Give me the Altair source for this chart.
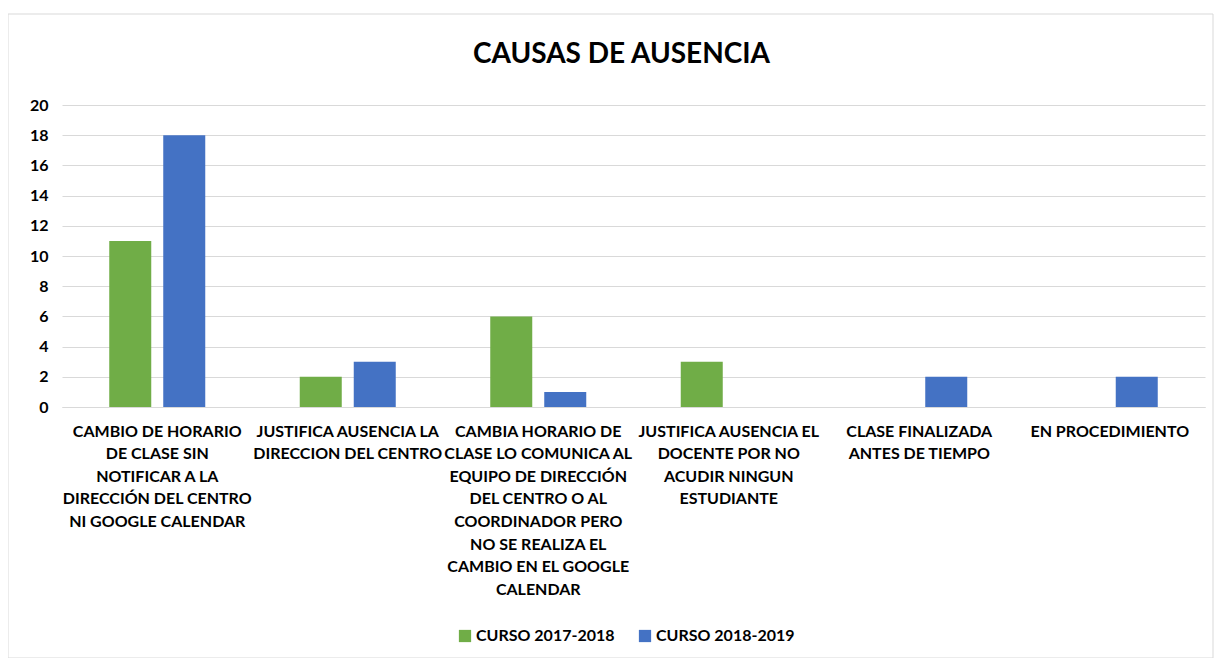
import altair as alt
import pandas as pd

categories = [
    "CAMBIO DE HORARIO|DE CLASE SIN|NOTIFICAR A LA|DIRECCIÓN DEL CENTRO|NI GOOGLE CALENDAR",
    "JUSTIFICA AUSENCIA LA|DIRECCION DEL CENTRO",
    "CAMBIA HORARIO DE|CLASE LO COMUNICA AL|EQUIPO DE DIRECCIÓN|DEL CENTRO O AL|COORDINADOR PERO|NO SE REALIZA EL|CAMBIO EN EL GOOGLE|CALENDAR",
    "JUSTIFICA AUSENCIA EL|DOCENTE POR NO|ACUDIR NINGUN|ESTUDIANTE",
    "CLASE FINALIZADA|ANTES DE TIEMPO",
    "EN PROCEDIMIENTO",
]
series = ["CURSO 2017-2018", "CURSO 2018-2019"]
values_2017 = [11, 2, 6, 3, 0, 0]
values_2018 = [18, 3, 1, 0, 2, 2]
colors = ["#70ad47", "#4472c4"]

rows = []
for c, a, b in zip(categories, values_2017, values_2018):
    rows.append({"cat": c, "serie": series[0], "val": a})
    rows.append({"cat": c, "serie": series[1], "val": b})
df = pd.DataFrame(rows)

FONT = "Lato"

bars = alt.Chart(df).mark_bar().encode(
    x=alt.X("cat:N", sort=categories, title=None,
            scale=alt.Scale(paddingInner=0, paddingOuter=0),
            axis=alt.Axis(labelAngle=0, labelExpr="split(datum.value, '|')",
                          labelFont=FONT, labelFontSize=16, labelFontWeight="bold",
                          labelColor="#000000", labelLimit=400, labelLineHeight=22.6,
                          labelPadding=16, ticks=False, domainColor="#d9d9d9",
                          labelBaseline="top")),
    xOffset=alt.XOffset("serie:N", sort=series,
                        scale=alt.Scale(paddingInner=0.2222, paddingOuter=0.875)),
    y=alt.Y("val:Q", title=None,
            scale=alt.Scale(domain=[0, 20]),
            axis=alt.Axis(values=list(range(0, 21, 2)), labelFont=FONT, labelFontSize=16,
                          labelFontWeight="bold", labelColor="#000000", ticks=False,
                          domain=False, gridColor="#d9d9d9", labelPadding=14)),
    color=alt.Color("serie:N", sort=series,
                    scale=alt.Scale(domain=series, range=colors),
                    legend=alt.Legend(title=None, orient="none", direction="horizontal",
                                      legendX=395, legendY=523, symbolType="square",
                                      symbolSize=150, symbolStrokeWidth=0,
                                      labelFont=FONT, labelFontSize=16, labelOffset=3,
                                      labelFontWeight="bold", labelColor="#000000",
                                      columnPadding=22, symbolOpacity=1)),
)

border = alt.Chart(alt.Data(values=[{}])).mark_rect(
    fill=None, stroke="#d9d9d9", strokeWidth=1
).encode(
    x=alt.value(-54), x2=alt.value(1151), y=alt.value(-91), y2=alt.value(553)
)

chart = alt.layer(border, bars).properties(
    width=1143, height=302,
    title=alt.TitleParams("CAUSAS DE AUSENCIA", font=FONT, fontSize=28,
                          fontWeight="bold", color="#000000", offset=-55, dx=-12,
                          anchor="middle"),
    autosize=alt.AutoSizeParams(type="none"),
    padding={"left": 54, "top": 97, "right": 9, "bottom": 251},
).configure_view(stroke=None)

chart.save("out.html", embed_options={"renderer": "svg", "actions": False})
